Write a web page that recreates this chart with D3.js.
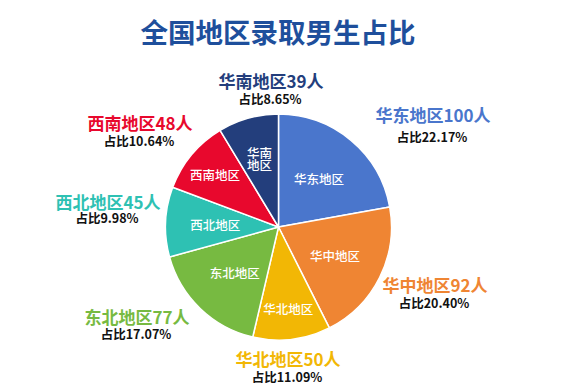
<!DOCTYPE html>
<html>
<head>
<meta charset="utf-8">
<script src="https://cdn.jsdelivr.net/npm/d3@7"></script>
<style>
  html, body { margin: 0; padding: 0; background: #ffffff; }
  svg { display: block; font-family: "Noto Sans CJK SC", "Noto Sans", sans-serif; }
</style>
</head>
<body>
<svg id="chart" width="572" height="388"></svg>
<script>
// ---- data ----
const title = "全国地区录取男生占比";
const regions = ["华东地区", "华中地区", "华北地区", "东北地区", "西北地区", "西南地区", "华南地区"];
const counts = [100, 92, 50, 77, 45, 48, 39];
const shares = ["22.17%", "20.40%", "11.09%", "17.07%", "9.98%", "10.64%", "8.65%"];
const colors = ["#4a76cc", "#ef8533", "#f2b705", "#77ba41", "#2ec1b3", "#e8082d", "#233e7c"];

// ---- layout ----
const W = 572, H = 388;
const cx = 278.5, cy = 227, R = 113;
// outer label anchors (text annotation positions): [x, nameY, shareY]
const outerPos = [
  [433, 114, 136], [435, 284, 302], [288, 358, 376], [137, 316, 333], [108, 201, 217], [140, 122, 140], [271, 80, 98]
];
const innerFont = 12.5;

const svg = d3.select("#chart");

svg.append("text")
  .attr("x", 278).attr("y", 31)
  .attr("text-anchor", "middle").attr("dominant-baseline", "central")
  .attr("font-size", 27.5).attr("font-weight", 700)
  .attr("fill", "#1e4f9c")
  .text(title);

const data = regions.map((r, i) => ({ region: r, count: counts[i], share: shares[i], color: colors[i] }));

const pie = d3.pie().sort(null).value(d => d.count);
const arcs = pie(data);
const arc = d3.arc().innerRadius(0).outerRadius(R);

const g = svg.append("g").attr("transform", `translate(${cx},${cy})`);

g.selectAll("path.slice")
  .data(arcs)
  .enter().append("path")
  .attr("class", "slice")
  .attr("d", arc)
  .attr("fill", d => d.data.color)
  .attr("stroke", "#ffffff")
  .attr("stroke-width", 1.5)
  .attr("stroke-linejoin", "round");

function angOf(x, y) {
  let a = Math.atan2(x, -y);
  if (a < 0) a += 2 * Math.PI;
  return a;
}
// find a radius at which a horizontal label box fits inside the wedge
function fitRadius(a, w, h) {
  const mid = (a.startAngle + a.endAngle) / 2;
  const margin = 0.03;
  for (let f = 0.56; f <= 0.86; f += 0.01) {
    const r = R * f;
    const x = r * Math.sin(mid), y = -r * Math.cos(mid);
    const corners = [[x - w / 2, y - h / 2], [x + w / 2, y - h / 2], [x - w / 2, y + h / 2], [x + w / 2, y + h / 2]];
    const ok = corners.every(([px, py]) => {
      let ang = angOf(px, py);
      if (a.endAngle > 2 * Math.PI - 0.01 && ang < 0.5) ang += 2 * Math.PI;
      const d = Math.hypot(px, py);
      return ang > a.startAngle + margin && ang < a.endAngle - margin && d < R - 4;
    });
    if (ok) return r;
  }
  return R * 0.6;
}

// inner labels
arcs.forEach(a => {
  const twoLine = a.data.region === "华南地区";
  const w = twoLine ? innerFont * 2 : innerFont * a.data.region.length;
  const h = twoLine ? innerFont * 2 : innerFont;
  const lr = fitRadius(a, w, h);
  const c = d3.arc().innerRadius(lr).outerRadius(lr).centroid(a);
  const t = g.append("text")
    .attr("text-anchor", "middle")
    .attr("font-size", innerFont)
    .attr("font-weight", 500)
    .attr("fill", "#ffffff");
  if (twoLine) {
    const name = a.data.region;
    t.append("tspan").attr("x", c[0]).attr("y", c[1] - 5.5).attr("dominant-baseline", "central").text(name.slice(0, 2));
    t.append("tspan").attr("x", c[0]).attr("y", c[1] + 6.5).attr("dominant-baseline", "central").text(name.slice(2));
  } else {
    t.attr("x", c[0]).attr("y", c[1]).attr("dominant-baseline", "central").text(a.data.region);
  }
});

// outer labels
data.forEach((d, i) => {
  const [x, y1, y2] = outerPos[i];
  svg.append("text")
    .attr("x", x).attr("y", y1)
    .attr("text-anchor", "middle").attr("dominant-baseline", "central")
    .attr("font-size", 17).attr("font-weight", 700)
    .attr("fill", d.color)
    .text(d.region + d.count + "人");
  svg.append("text")
    .attr("x", x - 1).attr("y", y2)
    .attr("text-anchor", "middle").attr("dominant-baseline", "central")
    .attr("font-size", 12.5).attr("font-weight", 700)
    .attr("fill", "#111111")
    .text("占比" + d.share);
});
</script>
</body>
</html>
